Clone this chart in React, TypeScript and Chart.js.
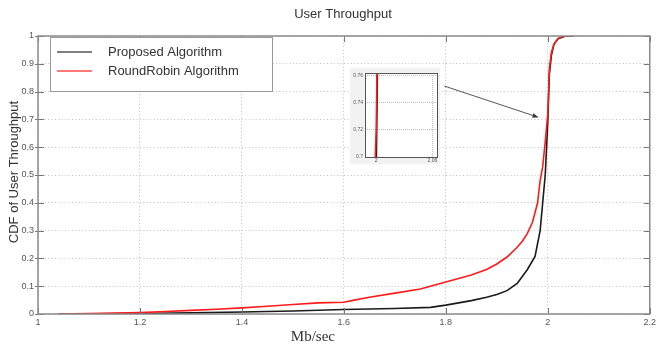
import React, { useEffect, useRef } from "react";
import { Chart, registerables } from "chart.js";
Chart.register(...registerables);

const chartTitle = "User Throughput";
const xAxisTitle = "Mb/sec";
const yAxisTitle = "CDF of User Throughput";
const seriesLabels = ["Proposed Algorithm", "RoundRobin Algorithm"];
const seriesColors = ["#1a1a1a", "#ff1a1a"];

const proposedX = [1.04, 1.2, 1.3, 1.4, 1.5, 1.6, 1.7, 1.77, 1.8, 1.85, 1.88, 1.9, 1.92, 1.94, 1.96, 1.975, 1.985, 1.99, 1.995, 2.0, 2.003, 2.007, 2.012, 2.02, 2.035, 2.05];
const proposedY = [0, 0.002, 0.004, 0.007, 0.011, 0.016, 0.02, 0.024, 0.032, 0.048, 0.06, 0.07, 0.084, 0.11, 0.16, 0.207, 0.3, 0.4, 0.5, 0.69, 0.86, 0.93, 0.97, 0.99, 1.0, 1.0];

const roundRobinX = [1.04, 1.1, 1.15, 1.2, 1.25, 1.3, 1.35, 1.4, 1.45, 1.5, 1.55, 1.6, 1.62, 1.65, 1.7, 1.75, 1.8, 1.85, 1.88, 1.9, 1.92, 1.94, 1.95, 1.96, 1.97, 1.98, 1.985, 1.99, 1.995, 2.0, 2.003, 2.007, 2.012, 2.02, 2.03, 2.045];
const roundRobinY = [0, 0.002, 0.003, 0.005, 0.009, 0.013, 0.017, 0.022, 0.028, 0.034, 0.04, 0.042, 0.05, 0.06, 0.075, 0.09, 0.115, 0.14, 0.16, 0.18, 0.205, 0.24, 0.262, 0.29, 0.33, 0.4, 0.48, 0.53, 0.62, 0.72, 0.88, 0.94, 0.97, 0.99, 1.0, 1.0];

const xTicks = [1, 1.2, 1.4, 1.6, 1.8, 2, 2.2];
const yTicks = [0, 0.1, 0.2, 0.3, 0.4, 0.5, 0.6, 0.7, 0.8, 0.9, 1];
const insetXTicks = [2, 2.06];
const insetYTicks = [0.7, 0.72, 0.74, 0.76];
const insetXRange = [1.988, 2.065];
const insetYRange = [0.7, 0.762];
const arrowFrom = { x: 1.797, y: 0.82 };
const arrowTo = { x: 1.981, y: 0.708 };

const SANS = "'Liberation Sans', Arial, sans-serif";
const SERIF = "'Liberation Serif', 'Times New Roman', serif";

const toPoints = (xs: number[], ys: number[]) => xs.map((x, i) => ({ x, y: ys[i] }));

function makeDatasets() {
  return [
    {
      label: seriesLabels[0],
      data: toPoints(proposedX, proposedY),
      borderColor: seriesColors[0],
      borderWidth: 1.6,
      pointRadius: 0,
      tension: 0,
      order: 1,
    },
    {
      label: seriesLabels[1],
      data: toPoints(roundRobinX, roundRobinY),
      borderColor: seriesColors[1],
      borderWidth: 1.6,
      pointRadius: 0,
      tension: 0,
      order: 0,
    },
  ];
}

const mainDecor = {
  id: "mainDecor",
  afterDraw(chart: any) {
    const { ctx, chartArea: a, scales } = chart;
    const xs = scales.x;
    const ys = scales.y;
    ctx.save();
    // inward ticks
    ctx.strokeStyle = "#777";
    ctx.lineWidth = 1;
    ctx.beginPath();
    xTicks.forEach((v) => {
      const px = Math.round(xs.getPixelForValue(v)) + 0.5;
      ctx.moveTo(px, a.bottom);
      ctx.lineTo(px, a.bottom - 6);
      ctx.moveTo(px, a.top);
      ctx.lineTo(px, a.top + 6);
    });
    yTicks.forEach((v) => {
      const py = Math.round(ys.getPixelForValue(v)) + 0.5;
      ctx.moveTo(a.left - 3, py);
      ctx.lineTo(a.left + 6, py);
      ctx.moveTo(a.right, py);
      ctx.lineTo(a.right - 6, py);
    });
    ctx.stroke();
    // frame
    ctx.strokeStyle = "#8a8a8a";
    ctx.lineWidth = 1.5;
    ctx.strokeRect(a.left, a.top, a.width, a.height);

    // arrow
    const x1 = xs.getPixelForValue(arrowFrom.x);
    const y1 = ys.getPixelForValue(arrowFrom.y);
    const x2 = xs.getPixelForValue(arrowTo.x);
    const y2 = ys.getPixelForValue(arrowTo.y);
    ctx.strokeStyle = "#555";
    ctx.fillStyle = "#333";
    ctx.lineWidth = 1;
    ctx.beginPath();
    ctx.moveTo(x1, y1);
    ctx.lineTo(x2, y2);
    ctx.stroke();
    const ang = Math.atan2(y2 - y1, x2 - x1);
    const hl = 6;
    ctx.beginPath();
    ctx.moveTo(x2, y2);
    ctx.lineTo(x2 - hl * Math.cos(ang - 0.4), y2 - hl * Math.sin(ang - 0.4));
    ctx.lineTo(x2 - hl * Math.cos(ang + 0.4), y2 - hl * Math.sin(ang + 0.4));
    ctx.closePath();
    ctx.fill();

    // legend
    const lx = a.left + 12;
    const ly = a.top + 1;
    ctx.fillStyle = "#ffffff";
    ctx.fillRect(lx, ly, 222, 54);
    ctx.strokeStyle = "#9a9a9a";
    ctx.lineWidth = 1;
    ctx.strokeRect(lx + 0.5, ly + 0.5, 222, 54);
    ctx.font = `13px ${SANS}`;
    ctx.textBaseline = "middle";
    ctx.textAlign = "left";
    seriesLabels.forEach((lab, i) => {
      const yy = ly + 15 + i * 19;
      ctx.strokeStyle = i === 0 ? "#555" : "#ff4d4d";
      ctx.lineWidth = 1.5;
      ctx.beginPath();
      ctx.moveTo(lx + 7, yy);
      ctx.lineTo(lx + 42, yy);
      ctx.stroke();
      ctx.fillStyle = "#333";
      ctx.fillText(lab, lx + 58, yy);
    });

    // titles
    ctx.fillStyle = "#333";
    ctx.textAlign = "center";
    ctx.textBaseline = "middle";
    ctx.font = `13px ${SANS}`;
    ctx.fillText(chartTitle, 343, 14);
    ctx.font = `15px ${SERIF}`;
    ctx.fillText(xAxisTitle, (a.left + a.right) / 2 - 31, 337);
    ctx.save();
    ctx.translate(14, (a.top + a.bottom) / 2 - 3);
    ctx.rotate(-Math.PI / 2);
    ctx.font = `13px ${SANS}`;
    ctx.fillText(yAxisTitle, 0, 0);
    ctx.restore();
    ctx.restore();
  },
};

const insetDecor = {
  id: "insetDecor",
  beforeDraw(chart: any) {
    const { ctx, chartArea: a } = chart;
    ctx.save();
    ctx.fillStyle = "#f2f2f2";
    ctx.fillRect(0, 0, chart.width, chart.height);
    ctx.fillStyle = "#ffffff";
    ctx.fillRect(a.left, a.top, a.width, a.height);
    ctx.restore();
  },
  afterDraw(chart: any) {
    const { ctx, chartArea: a } = chart;
    ctx.save();
    ctx.strokeStyle = "#555";
    ctx.lineWidth = 1;
    ctx.strokeRect(a.left + 0.5, a.top + 0.5, a.width, a.height);
    ctx.restore();
  },
};

export default function App() {
  const mainRef = useRef<HTMLCanvasElement>(null);
  const insetRef = useRef<HTMLCanvasElement>(null);

  useEffect(() => {
    const main = new Chart(mainRef.current as HTMLCanvasElement, {
      type: "line",
      data: { datasets: makeDatasets() as any },
      options: {
        animation: false,
        responsive: false,
        devicePixelRatio: 1,
        layout: { padding: { top: 36, right: 5, left: 0, bottom: 0 } },
        plugins: { legend: { display: false }, title: { display: false }, tooltip: { enabled: false } },
        scales: {
          x: {
            type: "linear",
            min: 1,
            max: 2.2,
            afterBuildTicks: (s: any) => {
              s.ticks = xTicks.map((v) => ({ value: v }));
            },
            afterFit: (s: any) => {
              s.height = 35;
            },
            ticks: {
              color: "#555",
              font: { size: 9, family: SANS },
              padding: 3,
              maxRotation: 0,
              autoSkip: false,
              callback: (v: any) => String(v),
            },
            grid: { color: "#c0c0c0", lineWidth: 1, drawTicks: false },
            border: { display: false, dash: [1, 2.4] },
          },
          y: {
            type: "linear",
            min: 0,
            max: 1,
            afterBuildTicks: (s: any) => {
              s.ticks = yTicks.map((v) => ({ value: v }));
            },
            afterFit: (s: any) => {
              s.width = 38;
            },
            ticks: {
              color: "#555",
              font: { size: 9, family: SANS },
              padding: 4,
              autoSkip: false,
              callback: (v: any) => String(v),
            },
            grid: { color: "#c0c0c0", lineWidth: 1, drawTicks: false },
            border: { display: false, dash: [1, 2.4] },
          },
        },
      },
      plugins: [mainDecor],
    });

    const inset = new Chart(insetRef.current as HTMLCanvasElement, {
      type: "line",
      data: { datasets: makeDatasets() as any },
      options: {
        animation: false,
        responsive: false,
        devicePixelRatio: 1,
        layout: { padding: { top: 5, right: 3, left: 0, bottom: 0 } },
        plugins: { legend: { display: false }, title: { display: false }, tooltip: { enabled: false } },
        scales: {
          x: {
            type: "linear",
            min: insetXRange[0],
            max: insetXRange[1],
            afterBuildTicks: (s: any) => {
              s.ticks = insetXTicks.map((v) => ({ value: v }));
            },
            afterFit: (s: any) => {
              s.height = 7;
            },
            ticks: {
              color: "#555",
              font: { size: 5, family: SANS },
              padding: 1,
              maxRotation: 0,
              autoSkip: false,
              callback: (v: any) => String(v),
            },
            grid: { color: "#bbb", lineWidth: 1, drawTicks: false },
            border: { display: false, dash: [1, 1] },
          },
          y: {
            type: "linear",
            min: insetYRange[0],
            max: insetYRange[1],
            afterBuildTicks: (s: any) => {
              s.ticks = insetYTicks.map((v) => ({ value: v }));
            },
            afterFit: (s: any) => {
              s.width = 15;
            },
            ticks: {
              color: "#555",
              font: { size: 5, family: SANS },
              padding: 2,
              autoSkip: false,
              callback: (v: any) => String(v),
            },
            grid: { color: "#bbb", lineWidth: 1, drawTicks: false },
            border: { display: false, dash: [1, 1] },
          },
        },
      },
      plugins: [insetDecor],
    });

    return () => {
      main.destroy();
      inset.destroy();
    };
  }, []);

  return (
    <div style={{ position: "fixed", left: 0, top: 0, width: 659, height: 349, background: "#fff" }}>
      <canvas ref={mainRef} width={659} height={349} style={{ position: "absolute", left: 0, top: 0 }} />
      <canvas ref={insetRef} width={90} height={96} style={{ position: "absolute", left: 350, top: 68 }} />
    </div>
  );
}
